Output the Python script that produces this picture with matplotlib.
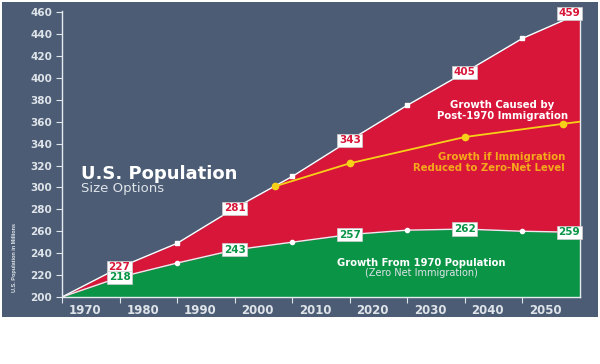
import matplotlib.pyplot as plt
from matplotlib.patches import Rectangle

# Data (millions)
years = [1970, 1980, 1990, 2000, 2010, 2020, 2030, 2040, 2050, 2060]
total_pop = [200, 227, 249, 281, 310, 343, 375, 405, 436, 459]
base_pop = [200, 218, 231, 243, 250, 257, 261, 262, 260, 259]
zero_net_years = [2007, 2020, 2040, 2057, 2060]
zero_net_pop = [301, 322, 346, 358, 360]

labelled_years = [1980, 2000, 2020, 2040, 2060]
tick_years = list(range(1970, 2060, 10))
y_ticks = list(range(200, 461, 20))

BG = "#4b5c74"
RED = "#d8163a"
GREEN = "#0a9446"
YELLOW = "#f7d117"
ORANGE = "#f6a81b"
LIGHT = "#dfe4ea"

plt.rcParams["font.family"] = ["DejaVu Sans"]

fig = plt.figure(figsize=(6, 3.64), dpi=100)
fig.patch.set_facecolor("white")

# slate panel behind everything
bg = fig.add_axes([0, 0, 1, 1], zorder=0)
bg.set_axis_off()
bg.add_patch(Rectangle((2 / 600, 1 - 317 / 364), 596 / 600, 315 / 364,
                       transform=bg.transAxes, facecolor=BG, edgecolor="none"))

ax = fig.add_axes([62 / 600, 1 - 297 / 364, 518 / 600, 286 / 364], zorder=1)
ax.set_facecolor("none")

ax.fill_between(years, 200, base_pop, color=GREEN, lw=0, zorder=1)
ax.fill_between(years, base_pop, total_pop, color=RED, lw=0, zorder=1)
ax.plot(years, total_pop, color="white", lw=1, zorder=2)
ax.plot(years, base_pop, color="#e8eef0", lw=1, zorder=2)
ax.plot(zero_net_years, zero_net_pop, color=YELLOW, lw=1.3, zorder=3,
        marker="o", ms=4.5, markevery=[0, 1, 2, 3])

# small white markers on the unlabelled decades
odd = [i for i, y in enumerate(years) if y not in labelled_years and y != 1970]
ax.plot([years[i] for i in odd], [total_pop[i] for i in odd], "s",
        color="white", ms=3, zorder=4)
ax.plot([years[i] for i in odd], [base_pop[i] for i in odd], "o",
        color="white", ms=3, zorder=4)

box = dict(boxstyle="square,pad=0.15", fc="white", ec="#cccccc", lw=0.5)
for yr in labelled_years:
    i = years.index(yr)
    ha = "right" if yr == years[-1] else "center"
    ax.text(yr, total_pop[i], str(total_pop[i]), ha=ha, va="center",
            color=RED, fontsize=7.5, fontweight="bold", bbox=box, zorder=5)
    ax.text(yr, base_pop[i], str(base_pop[i]), ha=ha, va="center",
            color=GREEN, fontsize=7.5, fontweight="bold", bbox=box, zorder=5)

ax.set_xlim(1970, 2060)
ax.set_ylim(200, 461)

ax.set_yticks(y_ticks)
ax.tick_params(axis="y", colors=LIGHT, length=4, width=0.8, labelsize=7.5, pad=3)
for t in ax.get_yticklabels():
    t.set_fontweight("bold")

ax.set_xticks(tick_years)
ax.set_xticklabels([])
ax.set_xticks([y + 4 for y in tick_years], minor=True)
ax.set_xticklabels([str(y) for y in tick_years], minor=True)
ax.tick_params(axis="x", which="major", colors=LIGHT, length=4, width=0.8)
ax.tick_params(axis="x", which="minor", colors=LIGHT, length=0, labelsize=8.5, pad=5)
for t in ax.get_xticklabels(minor=True):
    t.set_fontweight("bold")

ax.spines["top"].set_visible(False)
for side in ["left", "right", "bottom"]:
    ax.spines[side].set_color("#e6ebf0")
    ax.spines[side].set_linewidth(1)
ax.spines["right"].set_bounds(200, 459)

fig.text(15 / 600, 1 - 258 / 364, "U.S. Population in Millions", rotation=90,
         ha="center", va="center", color=LIGHT, fontsize=4, fontweight="bold",
         family=["Liberation Sans"])

ax.text(1973.3, 312, "U.S. Population", color="white", fontsize=13,
        fontweight="bold", va="center")
ax.text(1973.3, 299, "Size Options", color=LIGHT, fontsize=9.5, va="center")

ax.text(2046.5, 370, "Growth Caused by\nPost-1970 Immigration", color="white",
        fontsize=7.3, fontweight="bold", ha="center", va="center", linespacing=1.15)
ax.text(2057.4, 323, "Growth if Immigration\nReduced to Zero-Net Level",
        color=ORANGE, fontsize=7.3, fontweight="bold", ha="right", va="center",
        linespacing=1.15)
ax.text(2032.5, 231, "Growth From 1970 Population", color="white",
        fontsize=7.2, fontweight="bold", ha="center", va="center")
ax.text(2032.5, 221.5, "(Zero Net Immigration)", color=LIGHT,
        fontsize=7, ha="center", va="center")

fig.savefig("out.png", dpi=100, facecolor=fig.get_facecolor())
